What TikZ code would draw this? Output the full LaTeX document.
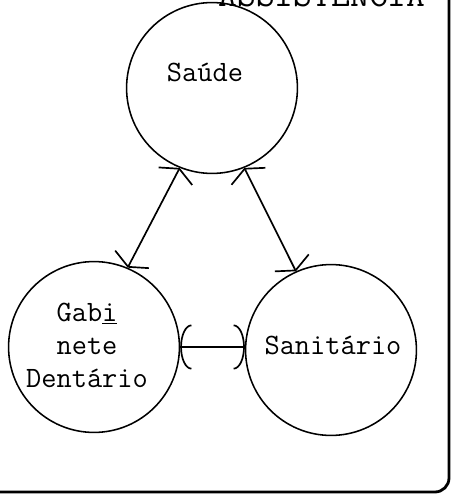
\documentclass[tikz,border=0pt]{standalone}
\usepackage{tikz}
\usetikzlibrary{arrows.meta}
\tikzset{arrow/.style = {line width=1.2pt,{Straight Barb[length=6pt,width=27pt]}-{Straight Barb[length=6pt,width=27pt]}}}
\tikzset{harrow/.style = {line width=1.2pt,{Arc Barb[length=8pt,width=32pt]}-{Arc Barb[length=8pt,width=32pt]}}}
\tikzset{area/.style = {draw,circle,line width=1.1pt,inner sep=0pt,minimum size=4.27cm}}
\tikzset{txt/.style = {font=\ttfamily\fontsize{21}{23.5}\selectfont,align=center,inner sep=0pt}}

\begin{document}
\begin{tikzpicture}[x=0.025cm,y=-0.025cm]
\useasboundingbox (0,0) rectangle (454,500);

% heading, only its lower part is on the page
\node[txt,font=\ttfamily\fontsize{26}{30}\selectfont,anchor=base] (head) at (322,7) {ASSISTENCIA};

\node[area] (saude) at (212,88) {};
\node[area] (gab) at (94,347) {};
\node[area] (sanit) at (331,350) {};

\node[txt] (saudetxt) at (205,72) {Saúde};
\node[txt] (gabtxt) at (87,345) {Gab\underline{i}\\nete\\Dentário};
\node[txt] (sanittxt) at (333,345) {Sanitário};

\draw[arrow] (saude.248) -- (gab.67);
\draw[arrow] (saude.292) -- (sanit.114);
\draw[harrow] (gab.0) -- (sanit.178);

% frame
\draw[line width=2pt,rounded corners=10pt] (449,-5) -- (449,492) -- (-5,492);
\end{tikzpicture}
\end{document}
